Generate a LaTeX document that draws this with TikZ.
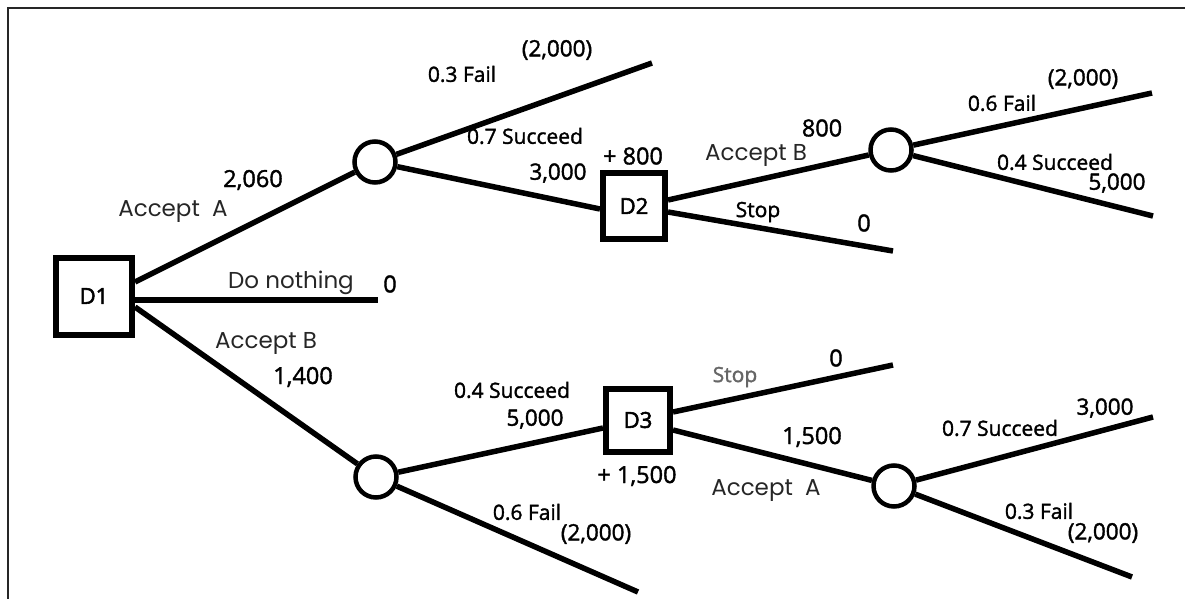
\documentclass[tikz,border=0pt]{standalone}
\usepackage{fontspec}
\newfontfamily\cmc{Open Sans}[FakeBold=1.6]
\newfontfamily\cmb{Open Sans}[FakeBold=2.5]
\newfontfamily\geo{Poppins}
\begin{document}
\begin{tikzpicture}[x=1pt,y=-1pt,
  branch/.style={line width=5.5pt},
  decision/.style={draw,line width=6pt,rectangle,fill=white,font=\cmb\fontsize{22}{24}\selectfont},
  chance/.style={draw,line width=4.5pt,circle,minimum size=41pt,inner sep=0pt,fill=white},
  prob/.style={font=\cmc\fontsize{21}{23}\selectfont,inner sep=0pt},
  pay/.style={font=\cmc\fontsize{22.5}{24}\selectfont,inner sep=0pt},
  ev/.style={font=\cmc\fontsize{23.5}{25}\selectfont,inner sep=0pt},
  act/.style={font=\geo\fontsize{23}{25}\selectfont,inner sep=0pt,text=black!85}]
\useasboundingbox (0,0) rectangle (1185,599);
\draw[line width=2.5pt,black!85] (8,599) -- (8,8) -- (1185,8);
% nodes
\node[decision,minimum width=76pt,minimum height=77pt] (d1) at (94,296) {D1};
\node[decision,minimum width=62pt,minimum height=66pt] (d2) at (634,206) {D2};
\node[decision,minimum width=64pt,minimum height=63pt] (d3) at (638,420) {D3};
\node[chance] (c1) at (375,162) {};
\node[chance] (c2) at (891,150) {};
\node[chance] (c3) at (376,477) {};
\node[chance] (c4) at (894,486) {};
\coordinate (e0) at (378,300);
\coordinate (e1) at (652,63);
\coordinate (e2) at (893,251);
\coordinate (e3) at (1152,93);
\coordinate (e4) at (1153,216);
\coordinate (e5) at (638,592);
\coordinate (e6) at (893,365);
\coordinate (e7) at (1153,417);
\coordinate (e8) at (1132,577);
% connectors
\draw[branch] ([yshift=14pt]d1.east) -- (c1);
\draw[branch] ([yshift=-4pt]d1.east) -- (e0);
\draw[branch] ([yshift=-11pt]d1.east) -- (c3);
\draw[branch] (c1) -- (e1);
\draw[branch] (c1) -- ([yshift=-3pt]d2.west);
\draw[branch] ([yshift=6pt]d2.east) -- (c2);
\draw[branch] ([yshift=-6pt]d2.east) -- (e2);
\draw[branch] (c2) -- (e3);
\draw[branch] (c2) -- (e4);
\draw[branch] (c3) -- ([yshift=-8pt]d3.west);
\draw[branch] (c3) -- (e5);
\draw[branch] ([yshift=8pt]d3.east) -- (e6);
\draw[branch] ([yshift=-10pt]d3.east) -- (c4);
\draw[branch] (c4) -- (e7);
\draw[branch] (c4) -- (e8);
% labels
\node[act] (tAA) at (173,212) {Accept\ \ A};
\node[ev] (t2060) at (253,180) {2,060};
\node[act] (tDN) at (291,283) {Do nothing};
\node[ev] (t0a) at (390,284) {0};
\node[act] (tAB) at (266,343) {Accept B};
\node[ev] (t1400) at (303,377) {1,400};
\node[pay] (tf1) at (557,50) {(2,000)};
\node[prob] (tp1) at (462,74) {0.3 Fail};
\node[prob] (tp2) at (525,136) {0.7 Succeed};
\node[ev] (t800a) at (633,156) {+ 800};
\node[pay] (t3000a) at (558,173) {3,000};
\node[act] (tAB2) at (756,155) {Accept B};
\node[ev] (t800b) at (822,128) {800};
\node[prob] (tS1) at (758,212) {Stop};
\node[ev] (t0b) at (864,223) {0};
\node[pay] (tf2) at (1083,79) {(2,000)};
\node[prob] (tp3) at (1002,103) {0.6 Fail};
\node[prob] (tp4) at (1055,162) {0.4 Succeed};
\node[pay] (t5000a) at (1117,183) {5,000};
\node[prob] (tp5) at (512,390) {0.4 Succeed};
\node[pay] (t5000b) at (535,419) {5,000};
\node[ev] (t1500a) at (637,476) {+ 1,500};
\node[prob] (tp6) at (527,512) {0.6 Fail};
\node[pay] (tf3) at (596,534) {(2,000)};
\node[prob,text=black!60] (tS2) at (735,377) {Stop};
\node[act] (tAA2) at (766,491) {Accept\ \ A};
\node[ev] (t1500b) at (812,437) {1,500};
\node[ev] (t0c) at (836,358) {0};
\node[pay] (t3000b) at (1105,408) {3,000};
\node[prob] (tp7) at (1000,428) {0.7 Succeed};
\node[prob] (tp8) at (1039,511) {0.3 Fail};
\node[pay] (tf4) at (1103,533) {(2,000)};
\end{tikzpicture}
\end{document}
